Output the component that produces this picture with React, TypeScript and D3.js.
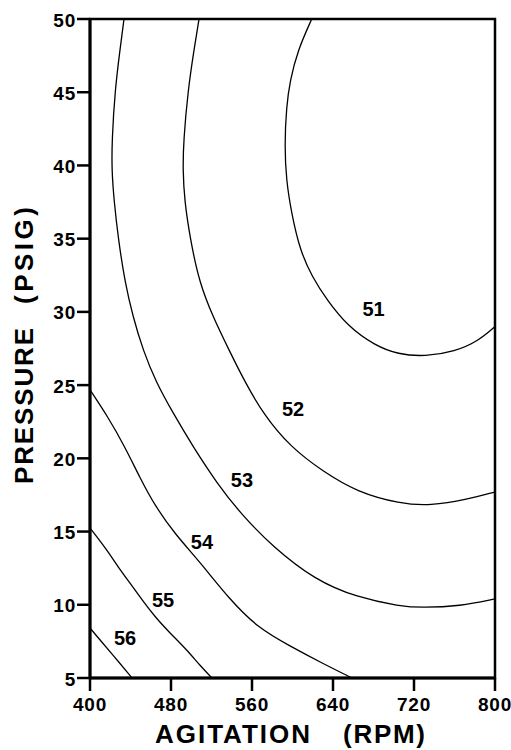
import React from "react";
import * as d3 from "d3";

// Axis ticks
const xTicks = [400, 480, 560, 640, 720, 800];
const yTicks = [5, 10, 15, 20, 25, 30, 35, 40, 45, 50];

// Contour levels with traced points [agitation (rpm), pressure (psig)]
const contour51: [number, number][] = [
  [619, 50], [605.4, 47.9], [597.5, 45.8], [594.0, 44.0], [592.2, 41.4], [593.8, 39.0],
  [599.0, 36.75], [607.4, 34.2], [619.3, 32.4], [634.1, 30.8], [654.8, 29.0], [681.5, 27.7],
  [704.2, 27.1], [730.9, 26.95], [760.5, 27.3], [783.2, 28.0], [800, 29.0],
];
const contour52: [number, number][] = [
  [507.7, 50], [502.7, 47.9], [496.8, 45.15], [492.4, 41.7], [491.7, 39.7], [493.3, 37.6],
  [499.2, 34.9], [508.0, 32.0], [521.5, 29.65], [537.3, 27.4], [553.1, 25.2], [571.4, 23.0],
  [597.5, 20.8], [630.1, 19.1], [663.7, 17.7], [706.2, 16.9], [735.8, 16.75], [773.3, 17.2],
  [800, 17.7],
];
const contour53: [number, number][] = [
  [433.6, 50], [429.6, 47.9], [424.7, 45.15], [421.7, 41.7], [421.5, 39.7], [423.7, 37.6],
  [428.1, 34.9], [434.6, 32.0], [442.5, 29.65], [452.3, 27.4], [465.2, 25.2], [482.0, 23.1],
  [501.7, 20.8], [525.4, 18.3], [549.1, 16.2], [580.7, 13.95], [622.2, 11.7], [663.7, 10.5],
  [706.2, 9.9], [727.9, 9.8], [765.4, 9.9], [800, 10.4],
];
const contour54: [number, number][] = [
  [400, 24.67], [417.8, 22.82], [434.6, 20.77], [449.4, 18.66], [464.2, 16.75], [483.9, 14.83],
  [508.6, 12.92], [538.3, 10.33], [565.9, 8.42], [597.5, 7.18], [629.1, 6.02], [658.8, 5.0],
];
const contour55: [number, number][] = [
  [400, 15.24], [416.8, 13.74], [427.7, 12.58], [439.5, 11.49], [451.4, 10.33], [464.2, 9.17],
  [479.0, 8.07], [495.8, 6.91], [508.6, 5.85], [520.5, 5.0],
];
const contour56: [number, number][] = [
  [400, 8.41], [409.9, 7.6], [422.7, 6.57], [441.5, 5.0],
];

const contours = [contour51, contour52, contour53, contour54, contour55, contour56];

// Contour labels: [text, agitation, pressure]
const labelTexts = ["51", "52", "53", "54", "55", "56"];
const labelX = [680.0, 600.5, 550.1, 510.6, 472.1, 434.6];
const labelY = [30.2, 23.4, 18.5, 14.3, 10.3, 7.73];

const W = 511;
const H = 750;
const left = 90;
const right = 495;
const top = 19;
const bottom = 678;

export default function App() {
  const x = d3.scaleLinear().domain([400, 800]).range([left, right]);
  const y = d3.scaleLinear().domain([5, 50]).range([bottom, top]);
  const line = d3
    .line<[number, number]>()
    .x((d) => x(d[0]))
    .y((d) => y(d[1]))
    .curve(d3.curveBasis);

  const font = "'Liberation Sans', Arial, Helvetica, sans-serif";

  return (
    <svg
      width={W}
      height={H}
      style={{ position: "absolute", left: 0, top: 0, background: "#fff" }}
      fontFamily={font}
    >
      <rect x={0} y={0} width={W} height={H} fill="#fff" />
      <defs>
        <clipPath id="plot">
          <rect x={left} y={top} width={right - left} height={bottom - top} />
        </clipPath>
      </defs>
      <g clipPath="url(#plot)">
        {contours.map((c, i) => (
          <path key={i} d={line(c) || ""} fill="none" stroke="#000" strokeWidth={1.3} />
        ))}
      </g>
      {labelTexts.map((t, i) => (
        <text
          key={t}
          x={x(labelX[i])}
          y={y(labelY[i])}
          textAnchor="middle"
          dominantBaseline="central"
          fontSize={20}
          fontWeight="bold"
          fill="#000"
        >
          {t}
        </text>
      ))}
      {/* frame */}
      <rect
        x={left}
        y={top}
        width={right - left}
        height={bottom - top}
        fill="none"
        stroke="#000"
        strokeWidth={2.5}
      />
      <line x1={left} x2={left} y1={top} y2={bottom} stroke="#000" strokeWidth={3} />
      <line x1={left} x2={right} y1={bottom} y2={bottom} stroke="#000" strokeWidth={3} />
      {/* y ticks */}
      {yTicks.map((t) => (
        <g key={"y" + t}>
          <line x1={left - 13} x2={left} y1={y(t)} y2={y(t)} stroke="#000" strokeWidth={2.5} />
          <text
            x={left - 14}
            y={y(t) + 1}
            textAnchor="end"
            dominantBaseline="central"
            fontSize={19}
            fontWeight="bold"
            letterSpacing={0.8}
          >
            {t}
          </text>
        </g>
      ))}
      {/* x ticks */}
      {xTicks.map((t) => (
        <g key={"x" + t}>
          <line x1={x(t)} x2={x(t)} y1={bottom} y2={bottom + 13} stroke="#000" strokeWidth={2.5} />
          <text x={x(t)} y={711} textAnchor="middle" fontSize={19} fontWeight="bold" letterSpacing={0.8}>
            {t}
          </text>
        </g>
      ))}
      {/* axis titles */}
      <text x={155} y={743} fontSize={26} fontWeight="bold" textLength={155} lengthAdjust="spacing">
        AGITATION
      </text>
      <text x={343} y={743} fontSize={26} fontWeight="bold" textLength={82} lengthAdjust="spacing">
        (RPM)
      </text>
      <text
        transform={`translate(33,484) rotate(-90)`}
        fontSize={26}
        fontWeight="bold"
        textLength={156}
        lengthAdjust="spacing"
      >
        PRESSURE
      </text>
      <text
        transform={`translate(33,304) rotate(-90)`}
        fontSize={26}
        fontWeight="bold"
        textLength={97}
        lengthAdjust="spacing"
      >
        (PSIG)
      </text>
    </svg>
  );
}
